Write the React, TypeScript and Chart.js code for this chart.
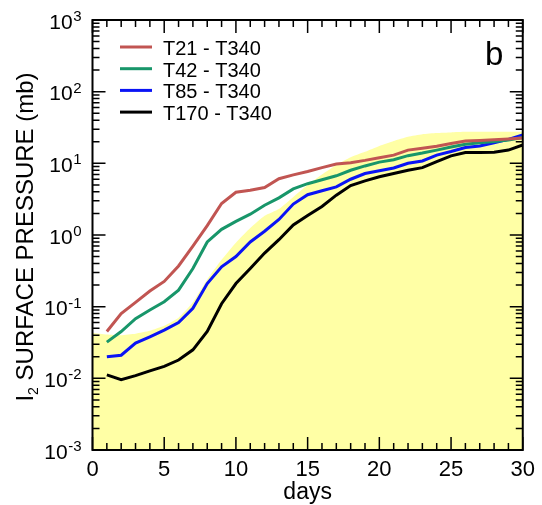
import React, { useEffect, useRef } from 'react';
import { Chart, registerables } from 'chart.js';

Chart.register(...registerables);

const FONT = '"Liberation Sans", Arial, Helvetica, sans-serif';

// ---- data ----
const days = [1, 2, 3, 4, 5, 6, 7, 8, 9, 10, 11, 12, 13, 14, 15, 16, 17, 18, 19, 20, 21, 22, 23, 24, 25, 26, 27, 28, 29, 30];
const t21 = [0.045, 0.08, 0.115, 0.165, 0.225, 0.37, 0.7, 1.35, 2.75, 3.95, 4.2, 4.6, 6.1, 6.9, 7.7, 8.7, 9.8, 10.2, 11.0, 12.0, 13.0, 15.3, 16.2, 17.3, 18.9, 20.5, 20.9, 21.3, 21.8, 22.5];
const t42 = [0.032, 0.045, 0.068, 0.09, 0.117, 0.17, 0.34, 0.8, 1.2, 1.55, 1.95, 2.6, 3.3, 4.4, 5.2, 5.9, 6.7, 8.0, 9.2, 10.4, 11.2, 12.8, 13.9, 15.3, 16.9, 18.4, 19.4, 20.2, 21.2, 23.0];
const t85 = [0.02, 0.021, 0.031, 0.038, 0.047, 0.06, 0.095, 0.21, 0.36, 0.5, 0.8, 1.13, 1.65, 2.7, 3.65, 4.15, 4.7, 6.0, 7.2, 7.9, 8.6, 10.0, 10.8, 13.0, 14.6, 16.6, 17.5, 19.4, 21.6, 25.0];
const t170 = [0.0112, 0.0096, 0.0109, 0.0127, 0.0147, 0.018, 0.025, 0.045, 0.11, 0.21, 0.34, 0.56, 0.86, 1.38, 1.87, 2.5, 3.6, 4.9, 5.7, 6.5, 7.2, 8.0, 8.7, 10.6, 12.7, 14.2, 14.2, 14.3, 15.3, 18.0];

const spreadDays = [0, 1, 2, 3, 4, 5, 6, 7, 8, 9, 10, 11, 12, 13, 14, 15, 16, 17, 18, 19, 20, 21, 22, 23, 24, 25, 26, 27, 28, 29, 30];
const spreadTop = [0.043, 0.041, 0.04, 0.042, 0.046, 0.054, 0.07, 0.115, 0.24, 0.45, 0.78, 1.25, 1.85, 2.3, 3.4, 5.0, 7.0, 9.5, 12.2, 14.5, 17.5, 20.5, 23.5, 25.5, 26.5, 27.0, 27.5, 27.5, 27.5, 27.5, 27.5];

const seriesLabels = ['T21 - T340', 'T42 - T340', 'T85 - T340', 'T170 - T340'];
const seriesColors = ['#c15552', '#18966a', '#0a14f5', '#000000'];
const spreadColor = 'rgb(255,255,165)';

const yDecadeExponents = [-3, -2, -1, 0, 1, 2, 3];
const xMajorTicks = [0, 5, 10, 15, 20, 25, 30];
const xMinorTicks = [0, 1, 2, 3, 4, 5, 6, 7, 8, 9, 10, 11, 12, 13, 14, 15, 16, 17, 18, 19, 20, 21, 22, 23, 24, 25, 26, 27, 28, 29, 30];
const yMinorMultipliers = [1, 2, 3, 4, 5, 6, 7, 8, 9];

const panelLabel = 'b';
const xAxisTitle = 'days';
const yTitleMain = 'I';
const yTitleSub = '2';
const yTitleRest = ' SURFACE PRESSURE (mb)';

const overlayPlugin = {
  id: 'overlay',
  afterDatasetsDraw(chart: any) {
    const { ctx, chartArea: a, scales } = chart;
    const xs = scales.x;
    const ys = scales.y;
    ctx.save();
    ctx.strokeStyle = '#000';
    ctx.fillStyle = '#000';

    // tick marks (inward on all four sides)
    ctx.lineWidth = 1.5;
    ctx.beginPath();
    for (const d of xMinorTicks) {
      const x = xs.getPixelForValue(d);
      const len = xMajorTicks.includes(d) ? 13 : 7;
      ctx.moveTo(x, a.bottom);
      ctx.lineTo(x, a.bottom - len);
      ctx.moveTo(x, a.top);
      ctx.lineTo(x, a.top + len);
    }
    for (const e of yDecadeExponents) {
      for (const m of yMinorMultipliers) {
        if (e === 3 && m > 1) break;
        const y = ys.getPixelForValue(m * Math.pow(10, e));
        const len = m === 1 ? 13 : 7;
        ctx.moveTo(a.left, y);
        ctx.lineTo(a.left + len, y);
        ctx.moveTo(a.right, y);
        ctx.lineTo(a.right - len, y);
      }
    }
    ctx.stroke();

    // frame
    ctx.lineWidth = 2;
    ctx.strokeRect(a.left, a.top, a.right - a.left, a.bottom - a.top);

    // y tick labels 10^n
    const labelRight = a.left - 11;
    for (const e of yDecadeExponents) {
      const y = ys.getPixelForValue(Math.pow(10, e));
      const expStr = String(e);
      ctx.font = `15px ${FONT}`;
      ctx.textAlign = 'right';
      ctx.textBaseline = 'alphabetic';
      const ew = ctx.measureText(expStr).width;
      ctx.fillText(expStr, labelRight, y + 1);
      ctx.font = `21px ${FONT}`;
      ctx.fillText('10', labelRight - ew - 0.5, y + 8.5);
    }

    // y axis title (rotated, with subscript)
    const cy = (a.top + a.bottom) / 2 + 2;
    ctx.save();
    ctx.translate(33, cy);
    ctx.rotate(-Math.PI / 2);
    ctx.textAlign = 'left';
    ctx.textBaseline = 'alphabetic';
    ctx.font = `24px ${FONT}`;
    const wI = ctx.measureText(yTitleMain).width;
    const wR = ctx.measureText(yTitleRest).width;
    ctx.font = `14px ${FONT}`;
    const wS = ctx.measureText(yTitleSub).width;
    const total = wI + wS + wR;
    let sx = -total / 2;
    ctx.font = `24px ${FONT}`;
    ctx.fillText(yTitleMain, sx, 0);
    sx += wI;
    ctx.font = `14px ${FONT}`;
    ctx.fillText(yTitleSub, sx, 5);
    sx += wS;
    ctx.font = `24px ${FONT}`;
    ctx.fillText(yTitleRest, sx, 0);
    ctx.restore();

    // x axis title
    ctx.font = `23px ${FONT}`;
    ctx.textAlign = 'center';
    ctx.textBaseline = 'alphabetic';
    ctx.fillText(xAxisTitle, (a.left + a.right) / 2, 499);

    // legend
    const lineDatasets = chart.data.datasets.filter((d: any) => d.isSeries);
    ctx.textAlign = 'left';
    ctx.font = `20px ${FONT}`;
    lineDatasets.forEach((ds: any, i: number) => {
      const y = a.top + 27 + i * 21.7;
      ctx.strokeStyle = ds.borderColor;
      ctx.lineWidth = 3;
      ctx.beginPath();
      ctx.moveTo(120, y);
      ctx.lineTo(152, y);
      ctx.stroke();
      ctx.fillStyle = '#000';
      ctx.fillText(ds.label, 163, y + 8);
    });

    // panel label
    ctx.font = `33px ${FONT}`;
    ctx.textAlign = 'left';
    ctx.fillText(panelLabel, 485, 65);

    ctx.restore();
  },
};

export default function App() {
  const canvasRef = useRef<HTMLCanvasElement | null>(null);

  useEffect(() => {
    if (!canvasRef.current) return;
    const seriesData = [t21, t42, t85, t170];
    const datasets: any[] = seriesData.map((vals, i) => ({
      label: seriesLabels[i],
      isSeries: true,
      data: days.map((d, j) => ({ x: d, y: vals[j] })),
      borderColor: seriesColors[i],
      backgroundColor: seriesColors[i],
      borderWidth: 3,
      pointRadius: 0,
      tension: 0,
      fill: false,
      order: 0,
    }));
    datasets.push({
      label: 'spread',
      isSeries: false,
      data: spreadDays.map((d, j) => ({ x: d, y: spreadTop[j] })),
      borderColor: spreadColor,
      backgroundColor: spreadColor,
      borderWidth: 0,
      pointRadius: 0,
      tension: 0.15,
      fill: 'start',
      order: 1,
    });

    const chart = new Chart(canvasRef.current, {
      type: 'line',
      data: { datasets },
      options: {
        animation: false,
        responsive: true,
        maintainAspectRatio: false,
        layout: { padding: { top: 20, right: 16.5, left: 0, bottom: 0 } },
        plugins: {
          legend: { display: false },
          tooltip: { enabled: false },
        },
        scales: {
          x: {
            type: 'linear',
            min: 0,
            max: 30,
            grid: { display: false, drawTicks: false },
            border: { display: false },
            ticks: {
              stepSize: 5,
              autoSkip: false,
              maxRotation: 0,
              padding: 7,
              color: '#000',
              font: { family: FONT, size: 22 },
            },
            afterFit: (scale: any) => {
              scale.height = 55;
            },
          },
          y: {
            type: 'logarithmic',
            min: 0.001,
            max: 1000,
            grid: { display: false, drawTicks: false },
            border: { display: false },
            ticks: { display: false },
            afterFit: (scale: any) => {
              scale.width = 92.5;
            },
          },
        },
      },
      plugins: [overlayPlugin],
    } as any);

    return () => chart.destroy();
  }, []);

  return (
    <div style={{ position: 'fixed', left: 0, top: 0, width: 542, height: 505, background: '#fff' }}>
      <canvas ref={canvasRef} />
    </div>
  );
}
